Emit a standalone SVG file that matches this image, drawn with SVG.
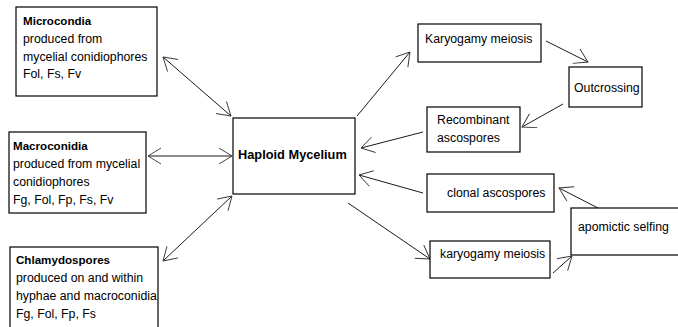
<svg xmlns="http://www.w3.org/2000/svg" width="678" height="327" viewBox="0 0 678 327">
<style>
.box{fill:#fff;stroke:#000;stroke-width:1.2}
.t{font-family:"Liberation Sans",Arial,sans-serif;font-size:12.3px;fill:#000}
.b{font-weight:bold;font-size:11.6px}
.hb{font-family:"Liberation Sans",Arial,sans-serif;font-weight:bold;font-size:12.8px;fill:#000}
.c{fill:none;stroke:#000;stroke-width:0.9}
</style>
<defs>
<marker id="ah" markerUnits="userSpaceOnUse" markerWidth="30" markerHeight="30" refX="0" refY="0" viewBox="-15 -15 30 30" orient="auto-start-reverse" overflow="visible">
<path d="M-13,-8 L0,0 L-13,8" fill="none" stroke="#333" stroke-width="0.9"/>
</marker>
</defs>
<rect width="678" height="327" fill="#fff"/>
<g id="connectors">
<line class="c" x1="163" y1="57" x2="231" y2="116" marker-start="url(#ah)" marker-end="url(#ah)"/>
<line class="c" x1="148" y1="156" x2="232" y2="156" marker-start="url(#ah)" marker-end="url(#ah)"/>
<line class="c" x1="163" y1="261" x2="232" y2="196" marker-start="url(#ah)" marker-end="url(#ah)"/>
<line class="c" x1="357" y1="116" x2="410" y2="52" marker-end="url(#ah)"/>
<line class="c" x1="546" y1="41" x2="588" y2="62" marker-end="url(#ah)"/>
<line class="c" x1="563" y1="104" x2="522" y2="127" marker-end="url(#ah)"/>
<line class="c" x1="423" y1="132" x2="361" y2="148" marker-end="url(#ah)"/>
<line class="c" x1="423" y1="193" x2="359" y2="175" marker-end="url(#ah)"/>
<line class="c" x1="348" y1="203" x2="430" y2="259" marker-end="url(#ah)"/>
<line class="c" x1="598" y1="208" x2="559" y2="188" marker-end="url(#ah)"/>
<line class="c" x1="553" y1="273" x2="572" y2="256" marker-end="url(#ah)"/>
</g>
<g id="microcondia">
<rect class="box" x="16" y="7" width="141" height="89"/>
<text class="t" x="23"><tspan class="b" x="23" y="25">Microcondia</tspan><tspan x="23" y="43">produced from</tspan><tspan x="23" y="61">mycelial conidiophores</tspan><tspan x="23" y="78">Fol, Fs, Fv</tspan></text>
</g>
<g id="macroconidia">
<rect class="box" x="9" y="132" width="137" height="81"/>
<text class="t"><tspan class="b" x="13" y="150">Macroconidia</tspan><tspan x="13" y="168">produced from mycelial</tspan><tspan x="13" y="186">conidiophores</tspan><tspan x="13" y="204">Fg, Fol, Fp, Fs, Fv</tspan></text>
</g>
<g id="chlamydospores">
<rect class="box" x="10" y="247" width="148" height="90"/>
<text class="t"><tspan class="b" x="16" y="264">Chlamydospores</tspan><tspan x="16" y="282">produced on and within</tspan><tspan x="16" y="300">hyphae and macroconidia</tspan><tspan x="16" y="318">Fg, Fol, Fp, Fs</tspan></text>
</g>
<g id="haploid">
<rect class="box" x="233" y="118" width="122" height="76"/>
<text class="hb" x="238" y="159">Haploid Mycelium</text>
</g>
<g id="karyogamy-top">
<rect class="box" x="418" y="24" width="123" height="38"/>
<text class="t" x="425" y="43">Karyogamy meiosis</text>
</g>
<g id="outcrossing">
<rect class="box" x="569" y="67" width="73" height="40"/>
<text class="t" x="574" y="92">Outcrossing</text>
</g>
<g id="recombinant">
<rect class="box" x="427" y="107" width="93" height="45"/>
<text class="t"><tspan x="437" y="124">Recombinant</tspan><tspan x="437" y="142">ascospores</tspan></text>
</g>
<g id="clonal">
<rect class="box" x="427" y="174" width="127" height="38"/>
<text class="t" x="447" y="197">clonal ascospores</text>
</g>
<g id="apomictic">
<rect class="box" x="571" y="208" width="120" height="47"/>
<text class="t" x="578" y="231">apomictic selfing</text>
</g>
<g id="karyogamy-bottom">
<rect class="box" x="430" y="241" width="120" height="37"/>
<text class="t" x="440" y="258">karyogamy meiosis</text>
</g>
</svg>
